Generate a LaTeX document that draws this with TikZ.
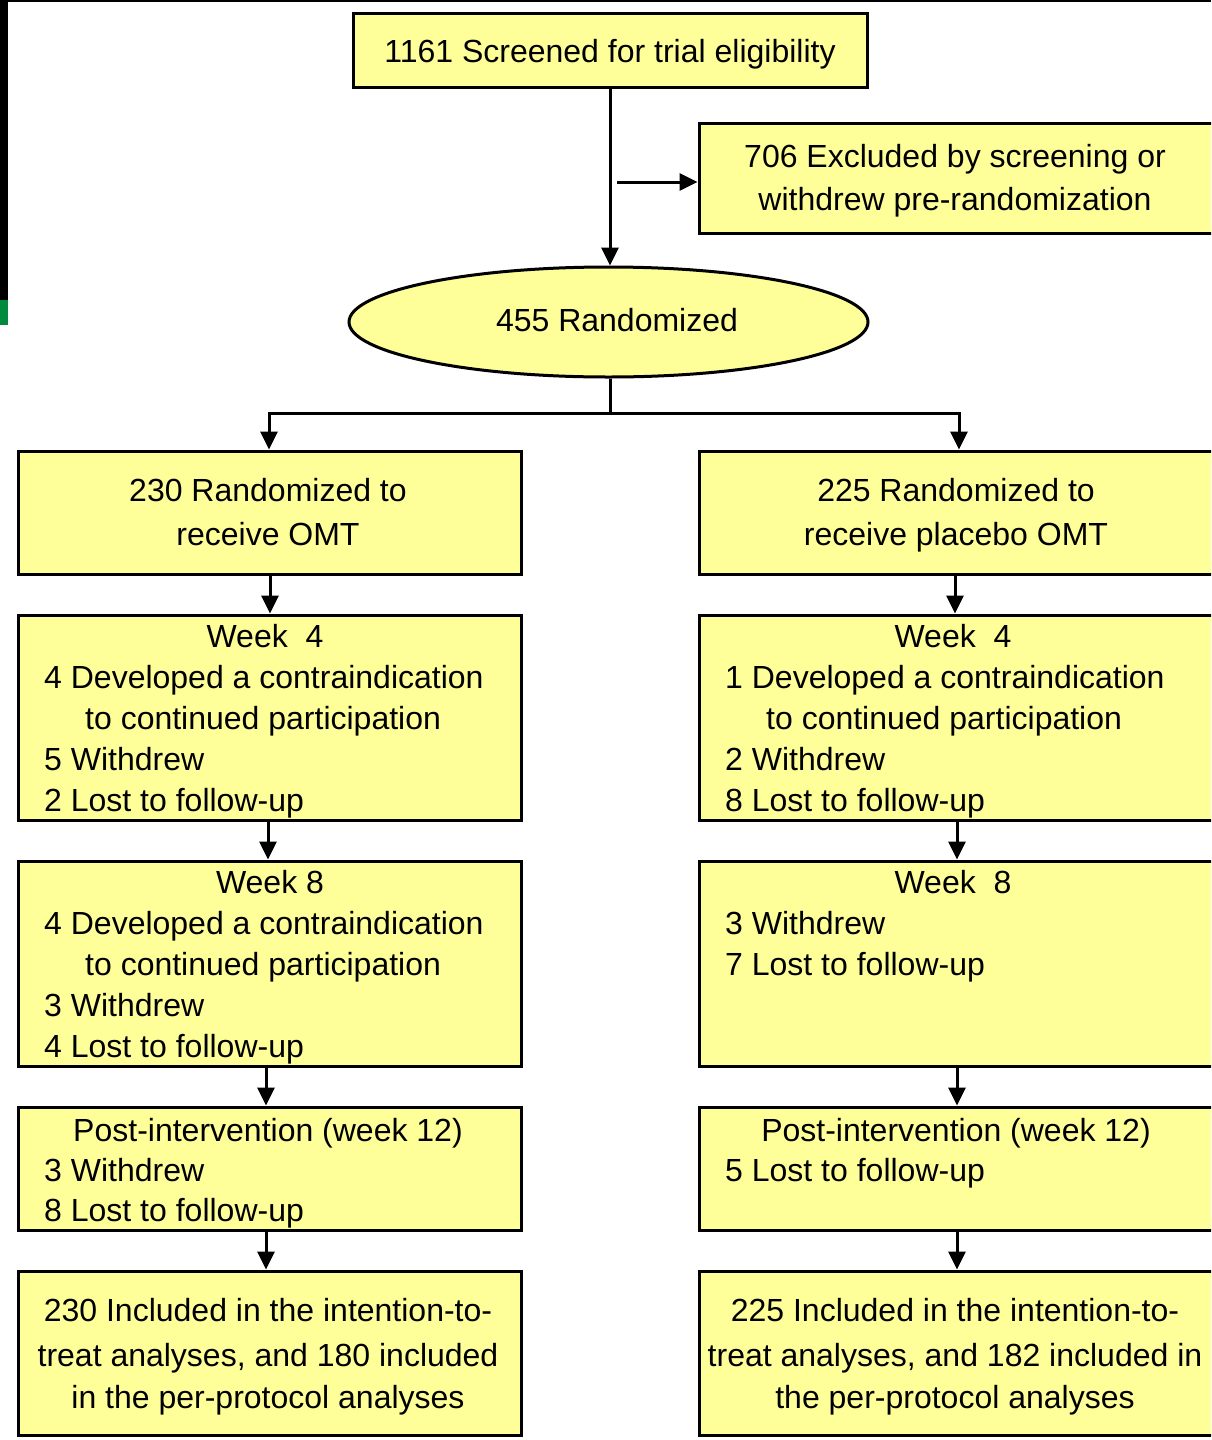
\documentclass[tikz,border=0pt]{standalone}
\usepackage{fontspec}
\setmainfont{Liberation Sans}
\usetikzlibrary{arrows.meta,shapes.geometric}
\definecolor{boxfill}{HTML}{FFFF99}
\definecolor{sidegreen}{HTML}{008A3E}
\tikzset{
  box/.style={draw=black, line width=3pt, fill=boxfill, rectangle, inner sep=0pt},
  oval/.style={draw=black, line width=3pt, fill=boxfill, ellipse, inner sep=0pt},
  txt/.style={inner sep=0pt, font=\fontsize{32}{41}\selectfont},
  arr/.style={line width=3pt, -{Triangle[length=18pt,width=17pt]}},
  ln/.style={line width=3pt}
}
\begin{document}
\begin{tikzpicture}[x=1pt,y=-1pt]
\useasboundingbox (0,0) rectangle (1211,1440);
\clip (0,0) rectangle (1211,1440);
% decorations at top-left
\fill[black] (0,0) rectangle (8,300);
\fill[sidegreen] (0,300) rectangle (8,325);
\draw[line width=1.5pt] (8,1) -- (1211,1);
% boxes
\node[box, minimum width=514pt, minimum height=74pt] (top) at (610,50) {};
\node[box, minimum width=516pt, minimum height=110pt] (excl) at (957,178) {};
\node[oval, minimum width=519pt, minimum height=110pt] (rand) at (608.5,322) {};
\node[box, minimum width=503pt, minimum height=123pt] (l1) at (269.5,512.5) {};
\node[box, minimum width=516pt, minimum height=123pt] (r1) at (957,512.5) {};
\node[box, minimum width=503pt, minimum height=205pt] (l2) at (269.5,717.5) {};
\node[box, minimum width=516pt, minimum height=205pt] (r2) at (957,717.5) {};
\node[box, minimum width=503pt, minimum height=205pt] (l3) at (269.5,963.5) {};
\node[box, minimum width=516pt, minimum height=205pt] (r3) at (957,963.5) {};
\node[box, minimum width=503pt, minimum height=123pt] (l4) at (269.5,1168.5) {};
\node[box, minimum width=516pt, minimum height=123pt] (r4) at (957,1168.5) {};
\node[box, minimum width=503pt, minimum height=164pt] (l5) at (269.5,1353) {};
\node[box, minimum width=516pt, minimum height=164pt] (r5) at (957,1353) {};
% texts
\node[txt, anchor=base] (t0) at (610,62) {1161 Screened for trial eligibility};
\node[txt, anchor=base] (e1) at (955,167) {706 Excluded by screening or};
\node[txt, anchor=base] (e2) at (955,210) {withdrew pre-randomization};
\node[txt, anchor=base] (rt) at (617,331) {455 Randomized};
% left column
\node[txt, anchor=base] (la1) at (268,501) {230 Randomized to};
\node[txt, anchor=base] (la2) at (268,545) {receive OMT};
\node[txt, anchor=base] (lb0) at (265,647) {Week\ \ 4};
\node[txt, anchor=base west] (lb1) at (44,688) {4 Developed a contraindication};
\node[txt, anchor=base west] (lb2) at (85,729) {to continued participation};
\node[txt, anchor=base west] (lb3) at (44,770) {5 Withdrew};
\node[txt, anchor=base west] (lb4) at (44,811) {2 Lost to follow-up};
\node[txt, anchor=base] (lc0) at (270,893) {Week 8};
\node[txt, anchor=base west] (lc1) at (44,934) {4 Developed a contraindication};
\node[txt, anchor=base west] (lc2) at (85,975) {to continued participation};
\node[txt, anchor=base west] (lc3) at (44,1016) {3 Withdrew};
\node[txt, anchor=base west] (lc4) at (44,1057) {4 Lost to follow-up};
\node[txt, anchor=base] (ld0) at (268,1141) {Post-intervention (week 12)};
\node[txt, anchor=base west] (ld1) at (44,1181) {3 Withdrew};
\node[txt, anchor=base west] (ld2) at (44,1221) {8 Lost to follow-up};
\node[txt, anchor=base] (le1) at (268,1321) {230 Included in the intention-to-};
\node[txt, anchor=base] (le2) at (268,1366) {treat analyses, and 180 included};
\node[txt, anchor=base] (le3) at (268,1408) {in the per-protocol analyses};
% right column
\node[txt, anchor=base] (ra1) at (956,501) {225 Randomized to};
\node[txt, anchor=base] (ra2) at (956,545) {receive placebo OMT};
\node[txt, anchor=base] (rb0) at (953,647) {Week\ \ 4};
\node[txt, anchor=base west] (rb1) at (725,688) {1 Developed a contraindication};
\node[txt, anchor=base west] (rb2) at (766,729) {to continued participation};
\node[txt, anchor=base west] (rb3) at (725,770) {2 Withdrew};
\node[txt, anchor=base west] (rb4) at (725,811) {8 Lost to follow-up};
\node[txt, anchor=base] (rc0) at (953,893) {Week\ \ 8};
\node[txt, anchor=base west] (rc1) at (725,934) {3 Withdrew};
\node[txt, anchor=base west] (rc2) at (725,975) {7 Lost to follow-up};
\node[txt, anchor=base] (rd0) at (956,1141) {Post-intervention (week 12)};
\node[txt, anchor=base west] (rd1) at (725,1181) {5 Lost to follow-up};
\node[txt, anchor=base] (re1) at (955,1321) {225 Included in the intention-to-};
\node[txt, anchor=base] (re2) at (955,1366) {treat analyses, and 182 included in};
\node[txt, anchor=base] (re3) at (955,1408) {the per-protocol analyses};
% connectors
\coordinate (sidestart) at (617,182);
\coordinate (split) at (610,413);
\draw[arr] (top.south -| 610,0) -- (rand.north -| 610,0);
\draw[arr] (sidestart) -- (excl.west |- sidestart);
\draw[ln] (rand.south -| split) -- (split);
\draw[arr] (split) -| (l1.north -| 269,0);
\draw[arr] (split) -| (r1.north -| 959,0);
\draw[arr] (l1.south -| 270,0) -- (l2.north -| 270,0);
\draw[arr] (l2.south -| 268,0) -- (l3.north -| 268,0);
\draw[arr] (l3.south -| 266,0) -- (l4.north -| 266,0);
\draw[arr] (l4.south -| 266,0) -- (l5.north -| 266,0);
\draw[arr] (r1.south -| 955,0) -- (r2.north -| 955,0);
\draw[arr] (r2.south -| 957,0) -- (r3.north -| 957,0);
\draw[arr] (r3.south -| 957,0) -- (r4.north -| 957,0);
\draw[arr] (r4.south -| 957,0) -- (r5.north -| 957,0);
\end{tikzpicture}
\end{document}
